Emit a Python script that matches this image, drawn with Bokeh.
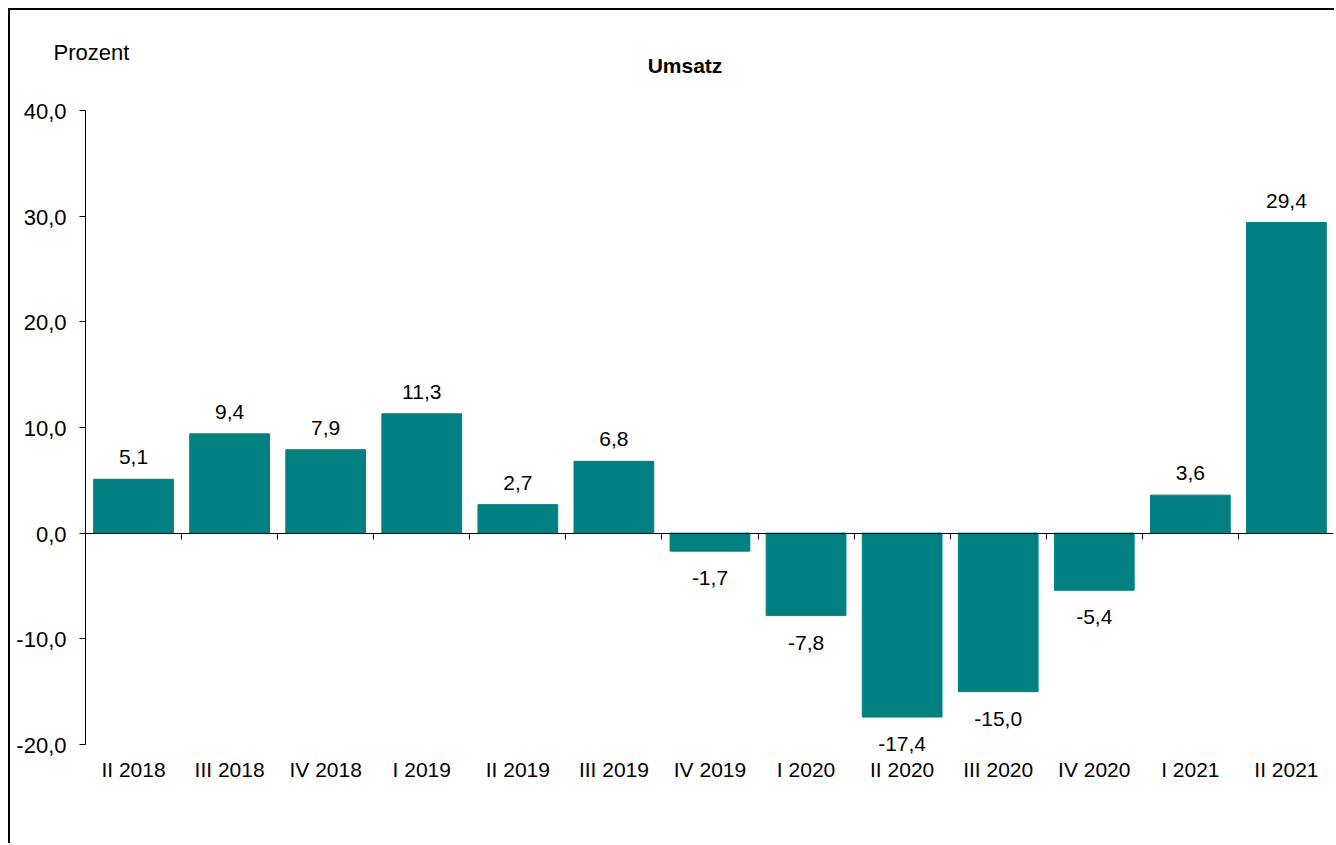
from bokeh.plotting import figure
from bokeh.models import (ColumnDataSource, LinearAxis, FixedTicker, Range1d,
                          LabelSet, Label)
from bokeh.core.properties import value
from bokeh.embed import file_html
from bokeh.resources import INLINE

categories = ["II 2018", "III 2018", "IV 2018", "I 2019", "II 2019", "III 2019",
              "IV 2019", "I 2020", "II 2020", "III 2020", "IV 2020", "I 2021", "II 2021"]
values = [5.1, 9.4, 7.9, 11.3, 2.7, 6.8, -1.7, -7.8, -17.4, -15.0, -5.4, 3.6, 29.4]
y_ticks = [-20, -10, 0, 10, 20, 30, 40]

FONT = "Liberation Sans"
TEAL = "#008080"


def fmt(v):
    return f"{v:.1f}".replace(".", ",")


n = len(categories)
xs = [i + 0.5 for i in range(n)]
y_lo, y_hi = min(y_ticks), max(y_ticks)

bars = ColumnDataSource(dict(x=xs, top=values, text=[fmt(v) for v in values],
                             off=[22 if v >= 0 else -27 for v in values]))
cats = ColumnDataSource(dict(x=xs, y=[y_lo] * n, text=categories))
yt = ColumnDataSource(dict(x=[0] * len(y_ticks), y=y_ticks, text=[fmt(t) for t in y_ticks]))

p = figure(width=1326, height=835, output_backend="svg", toolbar_location=None,
           x_range=Range1d(-0.7806, 12.99), y_range=Range1d(-28.4227, 49.4637),
           x_axis_type=None, y_axis_type=None,
           min_border_left=0, min_border_right=3, min_border_top=0,
           min_border_bottom=12)
p.styles = {"margin-left": "8px", "margin-top": "8px",
            "border-top": "2px solid black", "border-left": "2px solid black"}
p.outline_line_color = None
p.background_fill_color = "white"
p.border_fill_color = "white"

p.vbar(x="x", top="top", bottom=0, width=0.83, source=bars,
       fill_color=TEAL, line_color=TEAL)

# y axis at x = 0, ticks pointing left
ya = LinearAxis(fixed_location=0, bounds=(y_lo, y_hi), ticker=FixedTicker(ticks=y_ticks))
ya.major_label_text_font_size = "1px"
ya.major_label_text_color = None
ya.major_label_standoff = 0
ya.major_tick_in = 6
ya.major_tick_out = 0
ya.minor_tick_line_color = None
ya.axis_line_color = "black"
ya.major_tick_line_color = "black"
p.add_layout(ya, "right")

# zero line with ticks at category boundaries
za = LinearAxis(fixed_location=0, bounds=(0, n), ticker=FixedTicker(ticks=list(range(n + 1))))
za.major_label_text_font_size = "1px"
za.major_label_text_color = None
za.major_label_standoff = 0
za.major_tick_in = 0
za.major_tick_out = 6
za.minor_tick_line_color = None
za.axis_line_color = "black"
za.major_tick_line_color = "black"
p.add_layout(za, "below")

common = dict(text_font=value(FONT), text_color="black")

p.add_layout(LabelSet(x="x", y="top", text="text", y_offset="off", source=bars,
                      text_align="center", text_baseline="middle",
                      text_font_size="21px", **common))
p.add_layout(LabelSet(x="x", y="y", text="text", y_offset=-25, source=cats,
                      text_align="center", text_baseline="middle",
                      text_font_size="21px", **common))
p.add_layout(LabelSet(x="x", y="y", text="text", x_offset=-19, y_offset=-1, source=yt,
                      text_align="right", text_baseline="middle",
                      text_font_size="22px", **common))

p.add_layout(Label(x=0, y=y_hi, x_offset=-32, y_offset=58, text="Prozent",
                   text_align="left", text_baseline="middle",
                   text_font=FONT, text_font_size="22px", text_color="black"))
p.add_layout(Label(x=n / 2, y=y_hi, x_offset=-25, y_offset=45, text="Umsatz",
                   text_align="center", text_baseline="middle", text_font_style="bold",
                   text_font=FONT, text_font_size="21px", text_color="black"))

open("out.html", "w").write(file_html(p, INLINE))
